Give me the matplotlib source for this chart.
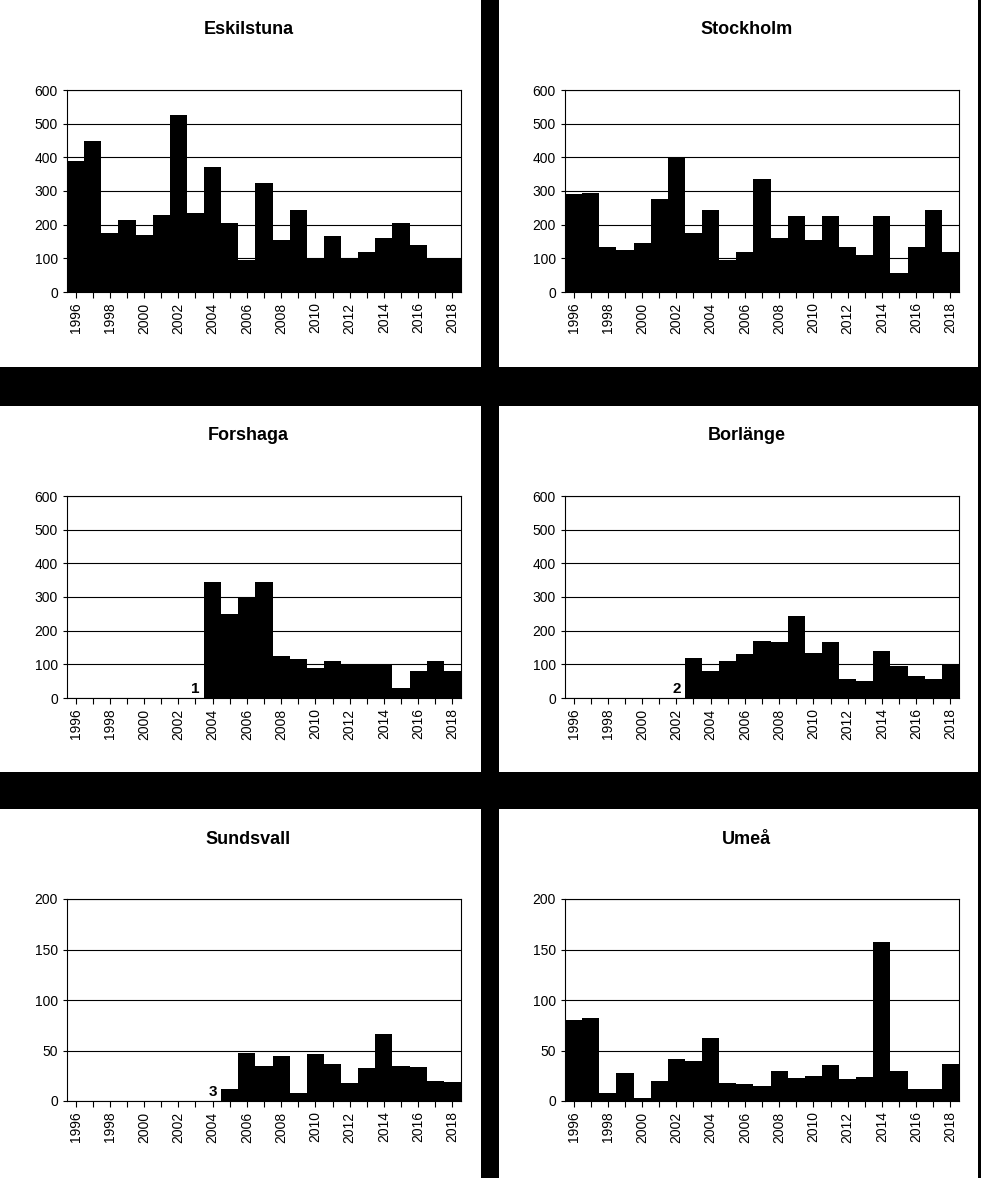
import matplotlib.pyplot as plt
from matplotlib.patches import Rectangle

years = list(range(1996, 2019))

eskilstuna = [390, 450, 175, 215, 170, 230, 525, 235, 370, 205, 95, 325,
              155, 245, 100, 165, 100, 120, 160, 205, 140, 100, 100]
stockholm = [290, 295, 135, 125, 145, 275, 400, 175, 245, 95, 120, 335,
             160, 225, 155, 225, 135, 110, 225, 55, 135, 245, 120]
forshaga = [0, 0, 0, 0, 0, 0, 0, 0, 345, 250, 300, 345,
            125, 115, 90, 110, 100, 100, 100, 30, 80, 110, 80]
borlange = [0, 0, 0, 0, 0, 0, 0, 120, 80, 110, 130, 170,
            165, 245, 135, 165, 55, 50, 140, 95, 65, 55, 100]
sundsvall = [0, 0, 0, 0, 0, 0, 0, 0, 0, 12, 48, 35,
             45, 8, 47, 37, 18, 33, 66, 35, 34, 20, 19]
umea = [80, 82, 8, 28, 3, 20, 42, 40, 62, 18, 17, 15,
        30, 23, 25, 36, 22, 24, 157, 30, 12, 12, 37]

panels = [
    ("Eskilstuna", eskilstuna, 600, 100, None, None),
    ("Stockholm", stockholm, 600, 100, None, None),
    ("Forshaga", forshaga, 600, 100, "1", 2003),
    ("Borlänge", borlange, 600, 100, "2", 2002),
    ("Sundsvall", sundsvall, 200, 50, "3", 2004),
    ("Umeå", umea, 200, 50, None, None),
]

W, H = 981, 1178
fig = plt.figure(figsize=(W / 100, H / 100), dpi=100)
fig.patch.set_facecolor("black")

# white panel backgrounds (pixel coords: x0, x1, y0, y1 from top)
cols = [(0, 481), (499, 978)]
rows = [(0, 367), (406, 772), (809, 1178)]
for y0, y1 in rows:
    for x0, x1 in cols:
        fig.patches.append(Rectangle((x0 / W, 1 - y1 / H), (x1 - x0) / W, (y1 - y0) / H,
                                     transform=fig.transFigure, facecolor="white",
                                     edgecolor="none", zorder=-1))

ax_left = [67, 565]
ax_top = [90, 496, 899]
title_y = [30, 435, 840]

for i, (name, vals, ymax, step, note, note_year) in enumerate(panels):
    r, c = divmod(i, 2)
    ax = fig.add_axes([ax_left[c] / W, 1 - (ax_top[r] + 202) / H, 394 / W, 202 / H])
    ax.set_zorder(2)
    ax.bar(years, vals, width=1.0, color="black", zorder=3)
    ax.set_xlim(1995.5, 2018.5)
    ax.set_ylim(0, ymax)
    ax.set_yticks(range(0, ymax + 1, step))
    ax.yaxis.grid(True, color="black", linewidth=0.8, zorder=1)
    ax.set_axisbelow(True)
    ax.set_xticks(years)
    ax.set_xticklabels([str(y) if (y - 1996) % 2 == 0 else "" for y in years],
                       rotation=90, fontsize=10, fontname="Liberation Sans")
    for lab in ax.get_yticklabels():
        lab.set_fontsize(10)
        lab.set_fontname("Liberation Sans")
    ax.tick_params(axis="x", length=4, direction="out")
    ax.tick_params(axis="y", length=3)
    for s in ax.spines.values():
        s.set_linewidth(0.8)
    if note:
        ax.text(note_year, ymax * 0.01, note, ha="center", va="bottom",
                fontsize=11, fontweight="bold", fontname="Liberation Sans")
    cx = (cols[c][0] + cols[c][1]) / 2
    t = fig.text(cx / W + 0.008, 1 - title_y[r] / H, name, ha="center", va="center",
                 fontsize=13, fontweight="bold", fontname="Liberation Sans")
    t.set_zorder(3)

fig.savefig("out.png", dpi=100, facecolor=fig.get_facecolor())
